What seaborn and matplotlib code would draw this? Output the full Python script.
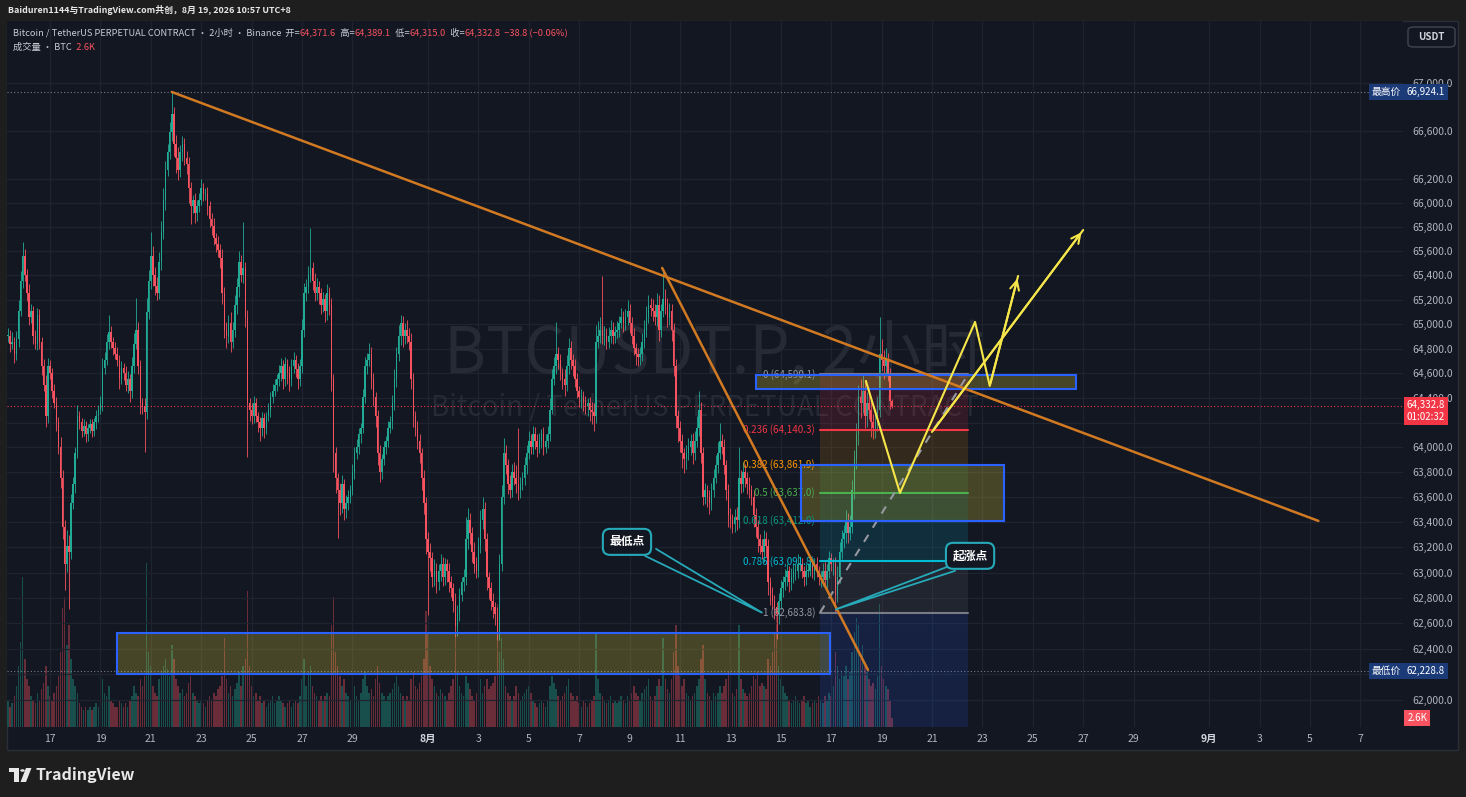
import matplotlib
matplotlib.use("Agg")
import numpy as np
import pandas as pd
import matplotlib.pyplot as plt
import matplotlib.dates as mdates
from matplotlib.patches import Rectangle, FancyBboxPatch, Polygon, Circle
from matplotlib.ticker import NullLocator
import seaborn as sns

W, H = 1466, 797

# ---------------- data: BTCUSDT.P 2h candles, first bar 2026-07-15 08:00 ----------------
candle_start = "2026-07-15 08:00"
first_open = 64900
closes = [
    64905, 64835, 64855, 64755, 64875, 65105, 65355, 65560, 65405, 65255,
    65055, 65105, 64905, 64835, 65075, 64855, 64655, 64505, 64255, 64655,
    64605, 64455, 64355, 64205, 64005, 63755, 63365, 63065, 63215, 63165,
    63555, 63705, 63955, 64255, 64205, 64135, 64175, 64105, 64155, 64185,
    64135, 64205, 64255, 64305, 64355, 64645, 64705, 64855, 64935, 64855,
    64805, 64755, 64705, 64555, 64645, 64605, 64505, 64555, 64455, 64655,
    64835, 64955, 64655, 64355, 64335, 64285, 65095, 65355, 65560, 65405,
    65315, 65255, 65510, 65760, 66020, 66270, 66420, 66585, 66740, 66485,
    66370, 66270, 66420, 66485, 66370, 66320, 66120, 65970, 66020, 65910,
    65970, 66020, 66120, 66070, 66070, 65970, 65860, 65810, 65710, 65660,
    65610, 65540, 65255, 64955, 64905, 65005, 64855, 64955, 65155, 65305,
    65510, 65405, 65460, 65055, 64355, 64305, 64255, 64355, 64255, 64205,
    64155, 64235, 64155, 64255, 64305, 64405, 64455, 64505, 64555, 64605,
    64655, 64555, 64675, 64605, 64555, 64655, 64705, 64635, 64555, 64655,
    64955, 65255, 65305, 65405, 65460, 65355, 65255, 65305, 65255, 65155,
    65205, 65105, 65255, 65155, 64555, 63955, 63755, 63655, 63555, 63705,
    63505, 63555, 63605, 63655, 63805, 63955, 64005, 64105, 64155, 64405,
    64655, 64705, 64755, 64555, 64405, 64255, 63955, 63805, 63905, 64005,
    64055, 64155, 64205, 64355, 64555, 64755, 64905, 65005, 64905, 64955,
    64905, 64855, 64555, 64255, 64155, 64055, 63955, 63755, 63555, 63265,
    63165, 63115, 62965, 63015, 62925, 63015, 63065, 62965, 63065, 63015,
    62925, 62875, 62775, 62580, 62675, 62825, 62925, 62965, 63265, 63415,
    63315, 63165, 63065, 63015, 63215, 63415, 63505, 63265, 62965, 62875,
    62775, 62725, 62675, 62530, 63065, 63605, 63955, 63855, 63705, 63655,
    63805, 63755, 63705, 63655, 63705, 63755, 63855, 63955, 64055, 64005,
    64105, 64055, 64005, 64055, 64105, 64005, 64055, 64105, 64305, 64555,
    64655, 64755, 64705, 64605, 64555, 64505, 64655, 64805, 64705, 64655,
    64555, 64455, 64405, 64405, 64355, 64335, 64355, 64305, 64285, 64255,
    64855, 64905, 64955, 64905, 64905, 64855, 64905, 64955, 64905, 64935,
    64955, 65005, 65055, 65005, 65055, 65105, 65005, 64905, 64805, 64755,
    64735, 64755, 64855, 64955, 65055, 65155, 65135, 65105, 65055, 65155,
    64955, 65105, 65205, 65155, 65055, 65105, 64955, 64655, 64255, 64155,
    64055, 63955, 63905, 63955, 64005, 64055, 63955, 64055, 64155, 64305,
    63955, 63605, 63655, 63605, 63555, 63655, 63755, 63855, 63955, 64055,
    64005, 63855, 63655, 63455, 63415, 63385, 63445, 63415, 63755, 63705,
    63805, 63755, 63705, 63655, 63605, 63455, 63365, 63265, 63215, 63165,
    63265, 63215, 62925, 62825, 62775, 62725, 62675, 62775, 62875, 62925,
    62965, 63015, 62925, 62965, 63015, 63015, 63065, 63065, 63015, 62965,
    63015, 63015, 63065, 63015, 63065, 63015, 62965, 62965, 63015, 62945,
    63015, 63115, 63065, 63065, 62825, 62965, 63165, 63265, 63315, 63415,
    63315, 63365, 63655, 63905, 64105, 64405, 64355, 64455, 64255, 64355,
    64305, 64205, 64155, 64205, 64305, 64755, 64705, 64655, 64705, 64605,
    64371.6, 64332.8,
]
wick_up = [
    60, 50, 80, 40, 70, 90, 80, 110, 60, 50,
    70, 60, 40, 50, 60, 50, 40, 60, 80, 70,
    50, 40, 60, 50, 40, 80, 60, 50, 120, 80,
    70, 60, 50, 90, 40, 30, 50, 40, 30, 40,
    40, 30, 50, 40, 60, 80, 70, 60, 140, 50,
    40, 50, 60, 40, 50, 40, 50, 60, 40, 80,
    90, 260, 60, 50, 40, 60, 120, 90, 200, 80,
    60, 70, 80, 90, 100, 80, 70, 90, 184.1, 60,
    80, 90, 60, 70, 50, 60, 60, 50, 40, 60,
    50, 60, 80, 40, 50, 60, 40, 50, 60, 40,
    60, 50, 80, 50, 60, 70, 90, 60, 80, 70,
    90, 60, 380, 50, 60, 40, 50, 60, 40, 30,
    40, 50, 40, 30, 50, 40, 60, 50, 40, 60,
    70, 50, 60, 40, 50, 60, 70, 40, 50, 60,
    90, 80, 60, 70, 330, 50, 60, 70, 50, 40,
    60, 40, 70, 50, 60, 40, 50, 40, 60, 70,
    40, 60, 50, 40, 60, 50, 60, 50, 40, 70,
    80, 60, 90, 60, 50, 40, 50, 60, 40, 50,
    40, 60, 50, 70, 80, 60, 90, 70, 60, 50,
    80, 60, 70, 50, 40, 60, 50, 40, 60, 50,
    60, 70, 50, 90, 60, 50, 80, 60, 50, 40,
    60, 50, 40, 60, 70, 50, 40, 60, 180, 100,
    60, 50, 80, 60, 70, 80, 100, 60, 50, 40,
    50, 60, 40, 50, 80, 90, 120, 60, 50, 70,
    60, 80, 100, 450, 60, 50, 70, 60, 80, 50,
    70, 60, 50, 60, 40, 60, 50, 70, 90, 80,
    80, 260, 60, 50, 40, 80, 90, 80, 60, 50,
    60, 50, 40, 70, 50, 60, 40, 50, 60, 70,
    140, 120, 100, 440, 80, 60, 70, 80, 60, 50,
    70, 60, 80, 50, 70, 90, 60, 50, 60, 40,
    50, 60, 70, 80, 90, 80, 60, 70, 60, 100,
    80, 60, 250, 80, 60, 70, 60, 50, 60, 50,
    60, 50, 40, 60, 70, 50, 60, 80, 100, 150,
    60, 50, 60, 40, 50, 60, 70, 80, 90, 140,
    50, 60, 40, 50, 60, 50, 60, 80, 250, 60,
    80, 60, 50, 60, 40, 50, 60, 50, 40, 50,
    70, 60, 50, 40, 60, 50, 40, 60, 70, 50,
    60, 50, 40, 70, 60, 50, 80, 60, 50, 40,
    50, 60, 70, 40, 50, 60, 40, 50, 60, 70,
    50, 60, 40, 50, 60, 90, 80, 70, 60, 80,
    60, 90, 80, 70, 90, 100, 150, 135, 80, 90,
    120, 80, 60, 70, 100, 300, 120, 80, 100, 60,
    40, 17.5,
]
wick_dn = [
    50, 60, 40, 70, 50, 60, 40, 60, 50, 70,
    60, 50, 70, 40, 50, 60, 70, 50, 90, 60,
    50, 60, 40, 70, 60, 80, 100, 200, 60, 450,
    60, 50, 70, 40, 60, 50, 40, 60, 50, 40,
    50, 40, 60, 50, 40, 60, 50, 40, 60, 50,
    60, 40, 50, 80, 40, 60, 50, 70, 90, 60,
    50, 40, 60, 90, 70, 320, 60, 50, 70, 90,
    80, 60, 50, 70, 60, 80, 50, 60, 70, 100,
    120, 80, 60, 70, 60, 80, 120, 150, 60, 80,
    60, 50, 40, 60, 50, 70, 60, 80, 60, 70,
    60, 80, 90, 70, 100, 60, 80, 50, 60, 70,
    80, 60, 70, 80, 430, 90, 70, 60, 50, 80,
    100, 60, 80, 50, 40, 60, 50, 40, 50, 60,
    70, 80, 60, 90, 100, 60, 50, 70, 80, 60,
    50, 60, 70, 50, 60, 80, 70, 60, 90, 70,
    60, 90, 70, 80, 100, 150, 120, 380, 100, 80,
    90, 70, 60, 50, 40, 60, 50, 60, 70, 40,
    50, 60, 50, 80, 70, 90, 100, 80, 60, 50,
    60, 50, 40, 60, 50, 70, 60, 80, 90, 70,
    60, 70, 80, 90, 60, 70, 80, 100, 90, 120,
    500, 100, 80, 70, 90, 60, 80, 70, 60, 90,
    80, 70, 90, 90, 80, 60, 50, 70, 60, 80,
    90, 80, 70, 60, 50, 60, 70, 90, 100, 80,
    70, 80, 90, 60, 60, 50, 60, 70, 80, 60,
    50, 60, 70, 80, 60, 50, 60, 70, 50, 60,
    60, 70, 80, 50, 60, 70, 50, 60, 50, 40,
    50, 60, 70, 60, 80, 90, 50, 60, 70, 80,
    70, 60, 80, 90, 60, 70, 80, 90, 100, 120,
    60, 50, 60, 70, 80, 60, 50, 60, 70, 60,
    50, 60, 40, 70, 50, 60, 80, 70, 60, 90,
    80, 70, 60, 50, 60, 50, 70, 80, 60, 70,
    90, 60, 50, 70, 80, 60, 90, 80, 100, 110,
    90, 120, 110, 80, 60, 70, 90, 60, 50, 60,
    80, 70, 60, 80, 90, 60, 50, 40, 60, 50,
    60, 70, 80, 90, 60, 70, 60, 80, 60, 70,
    60, 70, 80, 60, 70, 90, 80, 100, 70, 60,
    80, 90, 100, 80, 60, 90, 200, 80, 60, 70,
    60, 70, 80, 60, 50, 70, 60, 50, 60, 70,
    60, 50, 40, 60, 70, 50, 60, 80, 70, 60,
    70, 60, 50, 80, 141, 60, 50, 60, 70, 80,
    80, 60, 50, 70, 80, 90, 120, 80, 100, 90,
    80, 120, 90, 80, 70, 60, 90, 100, 80, 70,
    60, 17.8,
]
volume_k = [
    8, 6, 7, 9, 12, 18, 25, 44, 20, 14,
    12, 9, 8, 7, 10, 8, 11, 13, 18, 12,
    9, 8, 10, 12, 15, 22, 35, 38, 24, 30,
    20, 14, 12, 10, 7, 6, 5, 6, 5, 6,
    5, 6, 7, 6, 8, 14, 10, 9, 12, 8,
    7, 6, 6, 8, 7, 6, 7, 6, 8, 9,
    12, 10, 9, 14, 12, 15, 48, 22, 18, 12,
    10, 9, 14, 16, 18, 20, 17, 15, 24, 20,
    14, 12, 10, 11, 9, 10, 13, 15, 10, 9,
    8, 7, 8, 7, 6, 8, 9, 8, 10, 9,
    11, 12, 15, 26, 14, 10, 12, 9, 11, 13,
    16, 12, 18, 20, 40, 18, 12, 9, 10, 8,
    9, 7, 8, 6, 7, 8, 9, 7, 8, 9,
    8, 7, 6, 7, 8, 6, 7, 8, 7, 9,
    14, 20, 12, 16, 18, 12, 10, 9, 8, 9,
    8, 9, 10, 9, 30, 38, 22, 18, 15, 12,
    14, 10, 9, 8, 10, 12, 9, 8, 10, 14,
    16, 12, 10, 11, 9, 14, 18, 13, 10, 9,
    8, 9, 10, 11, 13, 15, 12, 10, 9, 8,
    9, 8, 14, 16, 12, 11, 13, 15, 20, 34,
    28, 18, 14, 12, 10, 9, 11, 10, 9, 8,
    10, 12, 14, 26, 16, 12, 10, 9, 15, 13,
    11, 9, 8, 10, 12, 14, 10, 12, 14, 11,
    12, 13, 15, 36, 22, 26, 20, 12, 10, 9,
    8, 9, 12, 10, 8, 9, 10, 11, 12, 10,
    8, 7, 6, 7, 8, 7, 6, 8, 12, 15,
    13, 11, 9, 8, 9, 10, 12, 14, 10, 9,
    8, 9, 7, 6, 8, 7, 6, 7, 8, 9,
    28, 14, 10, 9, 8, 7, 8, 9, 7, 8,
    7, 8, 9, 8, 7, 9, 8, 10, 12, 10,
    9, 8, 10, 11, 12, 14, 9, 8, 9, 12,
    14, 12, 26, 14, 11, 10, 14, 22, 30, 18,
    15, 12, 14, 10, 9, 8, 9, 10, 12, 14,
    20, 24, 14, 10, 9, 8, 10, 9, 10, 12,
    10, 12, 14, 16, 12, 10, 9, 11, 30, 14,
    11, 10, 9, 10, 12, 15, 14, 16, 12, 13,
    12, 11, 20, 18, 22, 28, 34, 18, 14, 12,
    10, 9, 8, 7, 8, 9, 8, 7, 8, 9,
    7, 8, 6, 7, 8, 7, 9, 8, 7, 9,
    8, 10, 9, 12, 22, 18, 14, 16, 15, 18,
    14, 16, 22, 28, 32, 30, 20, 24, 18, 16,
    14, 12, 13, 11, 15, 36, 18, 14, 12, 11,
    8, 2.6,
]

hi_price = 66924.1
lo_price = 62228.8
last_price = 64332.8

# axis ticks
tick_dates = ["2026-07-17", "2026-07-19", "2026-07-21", "2026-07-23", "2026-07-25", "2026-07-27",
              "2026-07-29", "2026-08-01", "2026-08-03", "2026-08-05", "2026-08-07", "2026-08-09",
              "2026-08-11", "2026-08-13", "2026-08-15", "2026-08-17", "2026-08-19", "2026-08-21",
              "2026-08-23", "2026-08-25", "2026-08-27", "2026-08-29", "2026-09-01", "2026-09-03",
              "2026-09-05", "2026-09-07"]
tick_labels = ["17", "19", "21", "23", "25", "27", "29", "8月", "3", "5", "7", "9", "11", "13",
               "15", "17", "19", "21", "23", "25", "27", "29", "9月", "3", "5", "7"]
price_ticks = [p for p in range(62000, 67001, 200) if p not in (66400, 66800)]
hidden_price_labels = [62200, 64200]   # covered by the badges on the price scale

# fibonacci retracement
fib_levels = [0, 0.236, 0.382, 0.5, 0.618, 0.786, 1, 1.618]
fib_prices = [64590.1, 64140.3, 63861.9, 63637.0, 63412.0, 63091.8, 62683.8, 61505.7]
fib_colors = ["#787b86", "#f23645", "#ff9800", "#4caf50", "#089981", "#00bcd4", "#787b86", "#2962ff"]
fib_line_colors = ["#787b86", "#f23645", "#9598a1", "#4caf50", "#089981", "#00bcd4", "#787b86", "#2962ff"]
fib_t0, fib_t1, fib_label_t = "2026-08-16 13:20", "2026-08-22 10:20", "2026-08-16 08:40"

# drawings
trend_main_t = ["2026-07-21 20:00", "2026-09-05 08:00"]
trend_main_p = [66924.1, 63411]
trend_fast_t = ["2026-08-10 07:00", "2026-08-18 11:00"]
trend_fast_p = [65460, 62234]
zone_t0 = ["2026-07-19 16:00", "2026-08-14 00:30", "2026-08-15 19:00"]
zone_t1 = ["2026-08-16 23:00", "2026-08-26 17:00", "2026-08-23 21:00"]
zone_lo = [62203, 64472, 63411]
zone_hi = [62524, 64588, 63859]
path_a_t = ["2026-08-18 09:00", "2026-08-19 17:30", "2026-08-22 17:00", "2026-08-23 07:00", "2026-08-24 10:00"]
path_a_p = [64537, 63634, 65017, 64496, 65394]
path_b_t = ["2026-08-21 00:00", "2026-08-27 00:00"]
path_b_p = [64124, 65773]
note_text = ["最低点", "起涨点"]
note_t = ["2026-08-08 21:30", "2026-08-22 12:15"]
note_p = [63244, 63133]
note_tip_t = ["2026-08-14 06:00", "2026-08-17 04:30"]
note_tip_p = [62684, 62710]
note_b1_t = ["2026-08-09 14:40", "2026-08-21 14:20"]
note_b1_p = [63133, 63045]
note_b2_t = ["2026-08-10 01:10", "2026-08-21 22:00"]
note_b2_p = [63188, 63014]

# ---------------- style ----------------
BG = "#131722"
FRAME = "#1e1e1e"
UP, DN = "#22ab94", "#f7525f"
TXT = "#b2b5be"
YEL = "#f7e64a"
TEAL = "#26a9b8"
ORANGE = "#d27a22"

sns.set_theme(style="dark", rc={"axes.facecolor": BG, "figure.facecolor": FRAME})
plt.rcParams["font.family"] = ["Noto Sans CJK SC", "DejaVu Sans"]


def d(s):
    return mdates.date2num(pd.to_datetime(s))


def fx(x):
    return x / W


def fy(y):
    return 1 - y / H


fig = plt.figure(figsize=(W / 100, H / 100), dpi=100)
fig.add_artist(Rectangle((fx(7), fy(750)), fx(1458) - fx(7), fy(21) - fy(750), transform=fig.transFigure,
                         fc=BG, ec="#2a2e39", lw=1, zorder=-5))

ax = fig.add_axes([fx(7), fy(727), fx(1403) - fx(7), fy(21) - fy(727)])
vax = ax.twinx()
ax.yaxis.tick_right()
ax.set_zorder(3)
vax.set_zorder(2)
ax.patch.set_visible(False)
vax.patch.set_visible(True)
vax.patch.set_facecolor(BG)

times = pd.date_range(candle_start, periods=len(closes), freq="2h")
x = mdates.date2num(times)
c = np.array(closes, dtype=float)
o = np.concatenate([[first_open], c[:-1]])
hi = np.maximum(o, c) + np.array(wick_up)
lo = np.minimum(o, c) - np.array(wick_dn)
vol = np.array(volume_k, dtype=float)
up = c >= o
bw = 2 / 24 * 0.72

# volume
vax.bar(x[up], vol[up], width=bw, color=UP, alpha=0.38, linewidth=0)
vax.bar(x[~up], vol[~up], width=bw, color=DN, alpha=0.38, linewidth=0)
vax.set_ylim(0, 207)
vax.yaxis.set_visible(False)
for s in vax.spines.values():
    s.set_visible(False)

# candles
ax.vlines(x[up], lo[up], hi[up], color=UP, lw=0.6, zorder=4)
ax.vlines(x[~up], lo[~up], hi[~up], color=DN, lw=0.6, zorder=4)
body_lo = np.minimum(o, c)
body_h = np.maximum(np.abs(c - o), 8)
ax.bar(x[up], body_h[up], bottom=body_lo[up], width=bw, color=UP, linewidth=0, zorder=4)
ax.bar(x[~up], body_h[~up], bottom=body_lo[~up], width=bw, color=DN, linewidth=0, zorder=4)

ax.set_yscale("log")
ax.set_ylim(61789, 67524)
ax.set_xlim(d("2026-07-17") - 43 / 25.2, d("2026-07-17") + 1353 / 25.2)
ax.set_yticks(price_ticks, ["" if p in hidden_price_labels else f"{p:,.1f}" for p in price_ticks])
ax.yaxis.set_minor_locator(NullLocator())
ax.set_xticks([d(t) for t in tick_dates], tick_labels)
ax.tick_params(axis="y", colors=TXT, labelsize=7.5, length=0, pad=7)
ax.tick_params(axis="x", colors=TXT, labelsize=7.5, length=0, pad=5)
for lab in ax.get_xticklabels():
    if "月" in lab.get_text():
        lab.set_fontweight("bold")
        lab.set_color("#d1d4dc")
ax.grid(True, color="#1f2330", lw=0.9)
for s in ax.spines.values():
    s.set_visible(False)

# watermark
ax.text(0.507, 0.527, "BTCUSDT.P, 2小时", transform=ax.transAxes, ha="center", va="center",
        fontsize=46, color="#262a35", zorder=1)
ax.text(0.500, 0.452, "Bitcoin / TetherUS PERPETUAL CONTRACT", transform=ax.transAxes, ha="center",
        va="center", fontsize=20, color="#262a35", zorder=1)

# high / low / last price lines
ax.axhline(hi_price, color="#787b86", lw=0.8, ls=(0, (1, 2)), zorder=3)
ax.axhline(lo_price, color="#787b86", lw=0.8, ls=(0, (1, 2)), zorder=3)
ax.axhline(last_price, color="#f23645", lw=0.8, ls=(0, (1, 2)), zorder=3)

# zones
for t0, t1, p0, p1 in zip(zone_t0, zone_t1, zone_lo, zone_hi):
    ax.add_patch(Rectangle((d(t0), p0), d(t1) - d(t0), p1 - p0, fc="#ffeb3b", alpha=0.22, ec="none", zorder=5))
    ax.add_patch(Rectangle((d(t0), p0), d(t1) - d(t0), p1 - p0, fc="none", ec="#2962ff", lw=1.5, zorder=6))

# fibonacci
f0, f1 = d(fib_t0), d(fib_t1)
for i in range(len(fib_prices) - 1):
    ax.add_patch(Rectangle((f0, fib_prices[i + 1]), f1 - f0, fib_prices[i] - fib_prices[i + 1],
                           fc=fib_colors[i + 1], alpha=0.14, ec="none", zorder=5))
for lvl, p, col, lcol in zip(fib_levels, fib_prices, fib_colors, fib_line_colors):
    if p < 61789:
        continue
    ax.plot([f0, f1], [p, p], color=lcol, lw=1.5, zorder=5.5)
    ax.text(d(fib_label_t), p, f"{lvl:g} ({p:,.1f})", color=col if col != "#787b86" else "#9598a1",
            fontsize=7, ha="right", va="center", zorder=5.5)
ax.plot([f0, f1], [fib_prices[6], fib_prices[0]], color="#9598a1", lw=1.5, ls=(0, (4, 4)), zorder=5.5)

# trend lines
ax.plot([d(t) for t in trend_main_t], trend_main_p, color=ORANGE, lw=1.8, zorder=7)
ax.plot([d(t) for t in trend_fast_t], trend_fast_p, color=ORANGE, lw=1.8, zorder=7)

# projected path
ax.plot([d(t) for t in path_a_t], path_a_p, color=YEL, lw=1.5, zorder=8)
ax.plot([d(t) for t in path_b_t], path_b_p, color=YEL, lw=1.5, zorder=8)
for tt, pp in ((path_a_t, path_a_p), (path_b_t, path_b_p)):
    ax.annotate("", xy=(d(tt[-1]), pp[-1]), xytext=(d(tt[-2]), pp[-2]),
                arrowprops=dict(arrowstyle="->", color=YEL, lw=1.5, mutation_scale=16), zorder=8)

# callouts
for txt, t, p, tt, tp, b1t, b1p, b2t, b2p in zip(note_text, note_t, note_p, note_tip_t, note_tip_p,
                                                 note_b1_t, note_b1_p, note_b2_t, note_b2_p):
    ax.plot([d(b1t), d(tt), d(b2t)], [b1p, tp, b2p], color=TEAL, lw=1.3, zorder=9)
    ax.text(d(t), p, txt, color="white", fontsize=8.5, weight="bold", ha="center", va="center", zorder=10,
            bbox=dict(boxstyle="round,pad=0.55,rounding_size=0.6", fc=BG, ec=TEAL, lw=1.5))

# price-scale badges
badge = dict(fontsize=7, color="white", va="center", annotation_clip=False, zorder=20)
ax.annotate(f"{hi_price:,.1f}", xy=(1, hi_price), xycoords=("axes fraction", "data"), xytext=(2.5, 0),
            textcoords="offset points", ha="left", bbox=dict(boxstyle="square,pad=0.3", fc="#1b3a78", ec="none"), **badge)
ax.annotate("最高价", xy=(1, hi_price), xycoords=("axes fraction", "data"), xytext=(-1.5, 0),
            textcoords="offset points", ha="right", bbox=dict(boxstyle="square,pad=0.3", fc="#1b3a78", ec="none"), **badge)
ax.annotate(f"{lo_price:,.1f}", xy=(1, lo_price), xycoords=("axes fraction", "data"), xytext=(2.5, 0),
            textcoords="offset points", ha="left", bbox=dict(boxstyle="square,pad=0.3", fc="#1b3a78", ec="none"), **badge)
ax.annotate("最低价", xy=(1, lo_price), xycoords=("axes fraction", "data"), xytext=(-1.5, 0),
            textcoords="offset points", ha="right", bbox=dict(boxstyle="square,pad=0.3", fc="#1b3a78", ec="none"), **badge)
ax.annotate(f"{last_price:,.1f}\n01:02:32", xy=(1, last_price), xycoords=("axes fraction", "data"),
            xytext=(2.5, 4.5), textcoords="offset points", ha="left", fontsize=7, color="white", va="top",
            linespacing=1.25, annotation_clip=False, zorder=20,
            bbox=dict(boxstyle="square,pad=0.3", fc="#f23645", ec="none"))
vax.annotate("2.6K", xy=(1, vol[-1]), xycoords=("axes fraction", "data"), xytext=(3, 0),
             textcoords="offset points", ha="left", bbox=dict(boxstyle="square,pad=0.3", fc="#f7525f", ec="none"), **badge)

# USDT button
fig.add_artist(FancyBboxPatch((fx(1408), fy(47)), fx(1455) - fx(1408), fy(27) - fy(47),
                              boxstyle="round,pad=0,rounding_size=0.004", transform=fig.transFigure,
                              fc=BG, ec="#434651", lw=1))
fig.text(fx(1431.5), fy(37), "USDT", color="#d1d4dc", fontsize=7, weight="bold", ha="center", va="center")


# header texts
def text_run(parts, x0, y0, size, weight="normal"):
    t = fig.text(fx(x0), fy(y0), parts[0][0], color=parts[0][1], fontsize=size, va="center", ha="left",
                 weight=weight)
    for s, col in parts[1:]:
        t = ax.annotate(s, xy=(1, 0), xycoords=t, xytext=(0, 0), textcoords="offset points", color=col,
                        fontsize=size, va="bottom", ha="left", weight=weight, annotation_clip=False)
    return t


fig.text(fx(8), fy(10), "Baiduren1144与TradingView.com共创，8月 19, 2026 10:57 UTC+8", color="#e8e8e8",
         fontsize=6.4, weight="bold", va="center", ha="left")
LBL, VAL = "#c8cbd3", "#f7525f"
text_run([("Bitcoin / TetherUS PERPETUAL CONTRACT · 2小时 · Binance", LBL), ("  开=", LBL), ("64,371.6", VAL),
          ("  高=", LBL), ("64,389.1", VAL), ("  低=", LBL), ("64,315.0", VAL), ("  收=", LBL),
          ("64,332.8", VAL), ("  −38.8 (−0.06%)", VAL)], 13, 33, 6.7)
text_run([("成交量 · BTC", LBL), ("  2.6K", VAL)], 13, 47, 6.7)

# TradingView logo
fig.add_artist(Polygon([(fx(9), fy(768)), (fx(19), fy(768)), (fx(19), fy(782)), (fx(14), fy(782)),
                        (fx(14), fy(772)), (fx(9), fy(772))], closed=True, transform=fig.transFigure,
                       fc="#e8e8e8", ec="none"))
fig.add_artist(Circle((fx(22.5), fy(770.5)), 2.3 / W, transform=fig.transFigure, fc="#e8e8e8", ec="none"))
fig.add_artist(Polygon([(fx(26), fy(768)), (fx(31.5), fy(768)), (fx(26), fy(782)), (fx(20.5), fy(782))],
                       closed=True, transform=fig.transFigure, fc="#e8e8e8", ec="none"))
fig.text(fx(36), fy(775), "TradingView", color="#e8e8e8", fontsize=11.5, weight="bold", va="center", ha="left")

fig.savefig("out.png", dpi=100, facecolor=FRAME)
